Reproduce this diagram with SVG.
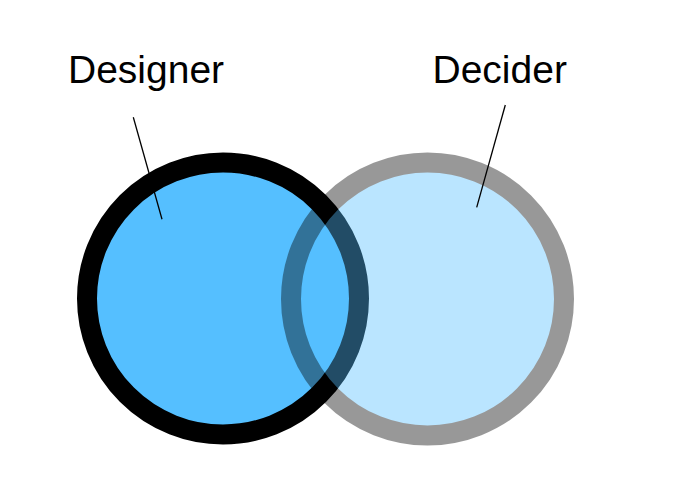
<svg xmlns="http://www.w3.org/2000/svg" width="698" height="503" viewBox="0 0 698 503">
<style>
.lbl{font-family:"Liberation Sans",Arial,sans-serif;font-size:39px;fill:#000}
.lead{stroke:#000;stroke-width:1.3;fill:none}
</style>
<rect width="698" height="503" fill="#fff"/>
<g id="designer">
<circle cx="223" cy="298.5" r="136" fill="#55BFFF" stroke="#000" stroke-width="20"/>
<text class="lbl" x="68" y="83">Designer</text>
</g>
<g id="decider">
<circle cx="427.5" cy="299" r="136.5" fill="#55BFFF" stroke="#000" stroke-width="20" opacity="0.4"/>
<text class="lbl" x="432.5" y="83">Decider</text>
</g>
<g id="connectors">
<line class="lead" x1="133.3" y1="117.3" x2="162" y2="219.3"/>
<line class="lead" x1="505.3" y1="105" x2="476.7" y2="207.3"/>
</g>
</svg>
